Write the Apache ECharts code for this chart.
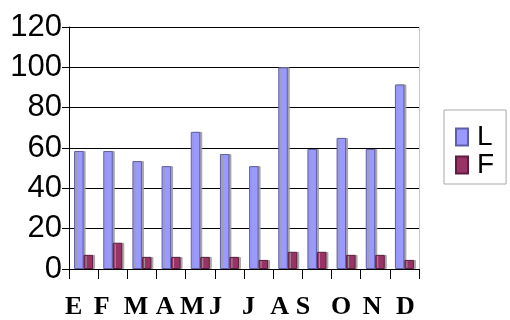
<!DOCTYPE html>
<html>
<head>
<meta charset="utf-8">
<script src="https://cdn.jsdelivr.net/npm/echarts@6/dist/echarts.min.js"></script>
<style>
  html, body { margin: 0; padding: 0; background: #fff; }
  #chart { width: 510px; height: 320px; }
</style>
</head>
<body>
<div id="chart"></div>
<script>
// Monthly values for the two series
const months = ['E', 'F', 'M', 'A', 'M', 'J', 'J', 'A', 'S', 'O', 'N', 'D'];
const seriesL = [58.5, 58.5, 53.5, 51, 68, 57, 51, 100, 59.5, 65, 59.5, 91.5];
const seriesF = [7, 13, 6, 6, 6, 6, 4.5, 8.5, 8.5, 7, 7, 4.5];
const yTicks = [0, 20, 40, 60, 80, 100, 120];

// Horizontal nudge (px) for each month label
const labelShift = [-10, -11, -6, -6, -8, -14, -10, -8, -14, -5, -3, 1];

const chart = echarts.init(document.getElementById('chart'), null, { renderer: 'canvas' });

const xData = months.map((m, i) => {
  const d = labelShift[i];
  const pad = d < 0 ? [0, -2 * d, 0, 0] : [0, 0, 0, 2 * d];
  return { value: m, textStyle: { padding: pad } };
});

const barShadow = { shadowColor: 'rgba(160,160,160,0.9)', shadowBlur: 0, shadowOffsetX: 2, shadowOffsetY: 0 };

chart.setOption({
  animation: false,
  backgroundColor: '#ffffff',
  grid: { left: 69, right: 91, top: 27, bottom: 48, containLabel: false },
  legend: {
    orient: 'vertical',
    left: 444,
    top: 110,
    padding: [13, 12, 5, 11],
    itemGap: 0,
    itemWidth: 12,
    itemHeight: 17,
    icon: 'rect',
    borderColor: '#a8a8a8',
    borderWidth: 1,
    textStyle: { fontFamily: 'Liberation Sans, Arial, sans-serif', fontSize: 28, color: '#000', lineHeight: 28, padding: [0, 0, 0, 4] },
    data: ['L', 'F']
  },
  xAxis: {
    type: 'category',
    data: xData,
    boundaryGap: true,
    axisLine: { lineStyle: { color: '#000', width: 1 } },
    axisTick: { show: true, length: 10, lineStyle: { color: '#000' } },
    axisLabel: {
      interval: 0,
      margin: 25,
      fontFamily: 'Liberation Serif, Times New Roman, serif',
      fontWeight: 'bold',
      fontSize: 26,
      color: '#000'
    },
    splitLine: { show: false }
  },
  yAxis: [{
    type: 'value',
    min: yTicks[0],
    max: yTicks[yTicks.length - 1],
    interval: 20,
    axisLine: { show: true, lineStyle: { color: '#000', width: 1 } },
    axisTick: { show: true, length: 7, lineStyle: { color: '#000' } },
    axisLabel: {
      margin: 7,
      fontFamily: 'Liberation Sans, Arial, sans-serif',
      fontSize: 31,
      color: '#000'
    },
    splitLine: { show: true, lineStyle: { color: '#000', width: 1 } }
  }, {
    type: 'value',
    position: 'right',
    min: 0,
    max: 120,
    interval: 20,
    axisLine: { show: true, lineStyle: { color: '#c8c8c8', width: 1 } },
    axisTick: { show: false },
    axisLabel: { show: false },
    splitLine: { show: false }
  }],
  series: [{
    name: 'L',
    type: 'bar',
    data: seriesL,
    barWidth: 9.5,
    barGap: '0%',
    itemStyle: Object.assign({ color: '#9999ff', borderColor: '#5f5fa8', borderWidth: 1 }, barShadow)
  }, {
    name: 'F',
    type: 'bar',
    data: seriesF,
    barWidth: 9.5,
    barGap: '0%',
    itemStyle: Object.assign({ color: '#993366', borderColor: '#5e1d3e', borderWidth: 1 }, barShadow)
  }]
});
</script>
</body>
</html>
